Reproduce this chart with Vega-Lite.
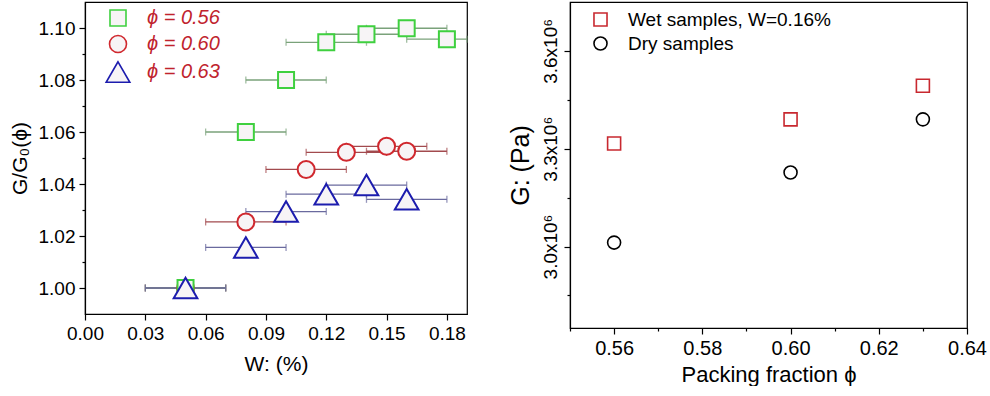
{
  "$schema": "https://vega.github.io/schema/vega-lite/v6.json",
  "padding": {"left": 8, "top": 1, "right": 2, "bottom": 0},
  "spacing": 38,
  "resolve": {
    "scale": {"stroke": "independent", "shape": "independent", "size": "independent"},
    "legend": {"stroke": "independent", "shape": "independent", "size": "independent"}
  },
  "config": {
    "font": "Liberation Sans",
    "view": {"stroke": "black", "strokeWidth": 1.2},
    "axis": {
      "domainColor": "black", "domainWidth": 1.2, "tickColor": "black", "tickWidth": 1.2,
      "labelColor": "black", "titleColor": "black", "titleFontWeight": "normal",
      "grid": false, "labelFlush": false, "labelOverlap": false
    }
  },
  "hconcat": [
    {
      "width": 382,
      "height": 312,
      "data": {
        "values": [
          {"phi": "ϕ = 0.60", "w": 0.05, "lo": 0.03, "hi": 0.07, "g": 1.0},
          {"phi": "ϕ = 0.60", "w": 0.08, "lo": 0.06, "hi": 0.10, "g": 1.0254},
          {"phi": "ϕ = 0.60", "w": 0.11, "lo": 0.09, "hi": 0.13, "g": 1.0456},
          {"phi": "ϕ = 0.60", "w": 0.13, "lo": 0.11, "hi": 0.15, "g": 1.0522},
          {"phi": "ϕ = 0.60", "w": 0.15, "lo": 0.13, "hi": 0.17, "g": 1.0545},
          {"phi": "ϕ = 0.60", "w": 0.16, "lo": 0.14, "hi": 0.18, "g": 1.0526},
          {"phi": "ϕ = 0.56", "w": 0.05, "lo": 0.03, "hi": 0.07, "g": 1.0},
          {"phi": "ϕ = 0.56", "w": 0.08, "lo": 0.06, "hi": 0.10, "g": 1.060},
          {"phi": "ϕ = 0.56", "w": 0.10, "lo": 0.08, "hi": 0.12, "g": 1.080},
          {"phi": "ϕ = 0.56", "w": 0.12, "lo": 0.10, "hi": 0.14, "g": 1.0945},
          {"phi": "ϕ = 0.56", "w": 0.14, "lo": 0.12, "hi": 0.16, "g": 1.0976},
          {"phi": "ϕ = 0.56", "w": 0.16, "lo": 0.14, "hi": 0.18, "g": 1.0999},
          {"phi": "ϕ = 0.56", "w": 0.18, "lo": 0.16, "hi": 0.20, "g": 1.0957},
          {"phi": "ϕ = 0.63", "w": 0.05, "lo": 0.03, "hi": 0.07, "g": 1.0},
          {"phi": "ϕ = 0.63", "w": 0.08, "lo": 0.06, "hi": 0.10, "g": 1.0156},
          {"phi": "ϕ = 0.63", "w": 0.10, "lo": 0.08, "hi": 0.12, "g": 1.0294},
          {"phi": "ϕ = 0.63", "w": 0.12, "lo": 0.10, "hi": 0.14, "g": 1.0361},
          {"phi": "ϕ = 0.63", "w": 0.14, "lo": 0.12, "hi": 0.16, "g": 1.0396},
          {"phi": "ϕ = 0.63", "w": 0.16, "lo": 0.14, "hi": 0.18, "g": 1.0341}
        ]
      },
      "encoding": {
        "y": {
          "field": "g", "type": "quantitative",
          "scale": {"domain": [0.99, 1.11], "nice": false, "zero": false},
          "axis": {
            "title": "G/G₀(ϕ)", "titlePadding": 8, "titleFontSize": 21, "labelFontSize": 19,
            "values": [1.0, 1.01, 1.02, 1.03, 1.04, 1.05, 1.06, 1.07, 1.08, 1.09, 1.1],
            "tickSize": {"condition": {"test": "abs(datum.value*50 - round(datum.value*50)) > 0.1", "value": 3}, "value": 6},
            "labelExpr": "abs(datum.value*50 - round(datum.value*50)) < 0.1 ? format(datum.value, '.2f') : ''",
            "labelPadding": 4
          }
        }
      },
      "layer": [
        {
          "transform": [{"filter": "datum.phi == 'ϕ = 0.60'"}],
          "mark": {"type": "errorbar", "ticks": {"size": 7}, "color": "#a24a4e", "thickness": 1.3},
          "encoding": {
            "x": {
              "field": "lo", "type": "quantitative",
              "scale": {"domain": [0, 0.19], "nice": false, "zero": false, "clamp": true},
              "axis": {
                "title": "W: (%)", "titlePadding": 10, "titleFontSize": 21, "labelFontSize": 19,
                "values": [0, 0.015, 0.03, 0.045, 0.06, 0.075, 0.09, 0.105, 0.12, 0.135, 0.15, 0.165, 0.18],
                "tickSize": {"condition": {"test": "abs(datum.value*100/3 - round(datum.value*100/3)) > 0.1", "value": 3}, "value": 6},
                "labelExpr": "abs(datum.value*100/3 - round(datum.value*100/3)) < 0.1 ? format(datum.value, '.2f') : ''",
                "labelPadding": 4
              }
            },
            "x2": {"field": "hi"}
          }
        },
        {
          "transform": [{"filter": "datum.phi == 'ϕ = 0.56'"}],
          "mark": {"type": "errorbar", "ticks": {"size": 7}, "color": "#7aa27a", "thickness": 1.3},
          "encoding": {
            "x": {"field": "lo", "type": "quantitative", "title": "W: (%)"},
            "x2": {"field": "hi"}
          }
        },
        {
          "transform": [{"filter": "datum.phi == 'ϕ = 0.63'"}],
          "mark": {"type": "errorbar", "ticks": {"size": 7}, "color": "#6a6a9e", "thickness": 1.3},
          "encoding": {
            "x": {"field": "lo", "type": "quantitative", "title": "W: (%)"},
            "x2": {"field": "hi"}
          }
        },
        {
          "mark": {"type": "point", "fill": "#f7f4f6", "fillOpacity": 1, "opacity": 1, "strokeWidth": 2},
          "encoding": {
            "x": {"field": "w", "type": "quantitative", "title": "W: (%)"},
            "stroke": {
              "field": "phi", "type": "nominal",
              "scale": {"domain": ["ϕ = 0.56", "ϕ = 0.60", "ϕ = 0.63"], "range": ["#3fd03f", "#d0282e", "#1c1cae"]},
              "legend": {
                "title": null, "orient": "none", "legendX": 20, "legendY": 6,
                "labelColor": "#c0232d", "labelFontStyle": "italic", "labelFontSize": 20, "labelFont": "Liberation Sans",
                "labelOffset": 16, "rowPadding": 2, "symbolFillColor": "#f7f4f6", "symbolStrokeWidth": 1.6
              }
            },
            "shape": {
              "field": "phi", "type": "nominal",
              "scale": {"domain": ["ϕ = 0.56", "ϕ = 0.60", "ϕ = 0.63"], "range": ["square", "circle", "triangle-up"]},
              "legend": {
                "title": null, "orient": "none", "legendX": 20, "legendY": 6,
                "labelColor": "#c0232d", "labelFontStyle": "italic", "labelFontSize": 20, "labelFont": "Liberation Sans",
                "labelOffset": 16, "rowPadding": 2, "symbolFillColor": "#f7f4f6", "symbolStrokeWidth": 1.6
              }
            },
            "size": {
              "field": "phi", "type": "nominal",
              "scale": {"type": "ordinal", "domain": ["ϕ = 0.56", "ϕ = 0.60", "ϕ = 0.63"], "range": [256, 289, 560]},
              "legend": {
                "title": null, "orient": "none", "legendX": 20, "legendY": 6,
                "labelColor": "#c0232d", "labelFontStyle": "italic", "labelFontSize": 20, "labelFont": "Liberation Sans",
                "labelOffset": 16, "rowPadding": 2, "symbolFillColor": "#f7f4f6", "symbolStrokeWidth": 1.6
              }
            }
          }
        }
      ]
    },
    {
      "width": 397,
      "height": 326,
      "data": {
        "values": [
          {"s": "Wet samples, W=0.16%", "p": 0.56, "G": 3316000},
          {"s": "Wet samples, W=0.16%", "p": 0.60, "G": 3390000},
          {"s": "Wet samples, W=0.16%", "p": 0.63, "G": 3493000},
          {"s": "Dry samples", "p": 0.56, "G": 3012000},
          {"s": "Dry samples", "p": 0.60, "G": 3227000},
          {"s": "Dry samples", "p": 0.63, "G": 3390000}
        ]
      },
      "mark": {"type": "point", "fill": "white", "fillOpacity": 1, "opacity": 1, "strokeWidth": 1.6},
      "encoding": {
        "x": {
          "field": "p", "type": "quantitative",
          "scale": {"domain": [0.55, 0.64], "nice": false, "zero": false},
          "axis": {
            "title": "Packing fraction ϕ", "titleFontSize": 22, "titlePadding": 6,
            "values": [0.55, 0.56, 0.57, 0.58, 0.59, 0.6, 0.61, 0.62, 0.63, 0.64],
            "tickSize": {"condition": {"test": "abs(datum.value*50 - round(datum.value*50)) > 0.1", "value": 3}, "value": 6},
            "labelExpr": "abs(datum.value*50 - round(datum.value*50)) < 0.1 ? format(datum.value, '.2f') : ''",
            "labelFontSize": 20, "labelPadding": 4
          }
        },
        "y": {
          "field": "G", "type": "quantitative",
          "scale": {"domain": [2750000, 3750000], "nice": false, "zero": false},
          "axis": {
            "title": "G: (Pa)", "titleFontSize": 25, "titlePadding": 8, "labelFontSize": 19,
            "values": [2850000, 3000000, 3150000, 3300000, 3450000, 3600000],
            "tickSize": {"condition": {"test": "round(datum.value/10000)%30 != 0", "value": 3}, "value": 6},
            "labelExpr": "round(datum.value/10000)%30 == 0 ? format(datum.value/1000000, '.1f') + 'x10⁶' : ''",
            "labelAngle": -90, "labelPadding": 4
          }
        },
        "stroke": {
          "field": "s", "type": "nominal",
          "scale": {"domain": ["Wet samples, W=0.16%", "Dry samples"], "range": ["#c8282f", "black"]},
          "legend": {
            "title": null, "orient": "none", "legendX": 21, "legendY": 8,
            "labelColor": "black", "labelFontSize": 19, "labelFont": "Liberation Sans", "labelLimit": 300,
            "labelOffset": 18, "symbolSize": 170, "rowPadding": 3,
            "symbolFillColor": "white", "symbolStrokeWidth": 1.6
          }
        },
        "shape": {
          "field": "s", "type": "nominal",
          "scale": {"domain": ["Wet samples, W=0.16%", "Dry samples"], "range": ["square", "circle"]},
          "legend": {
            "title": null, "orient": "none", "legendX": 21, "legendY": 8,
            "labelColor": "black", "labelFontSize": 19, "labelFont": "Liberation Sans", "labelLimit": 300,
            "labelOffset": 18, "symbolSize": 170, "rowPadding": 3,
            "symbolFillColor": "white", "symbolStrokeWidth": 1.6
          }
        },
        "size": {"value": 169}
      }
    }
  ]
}
